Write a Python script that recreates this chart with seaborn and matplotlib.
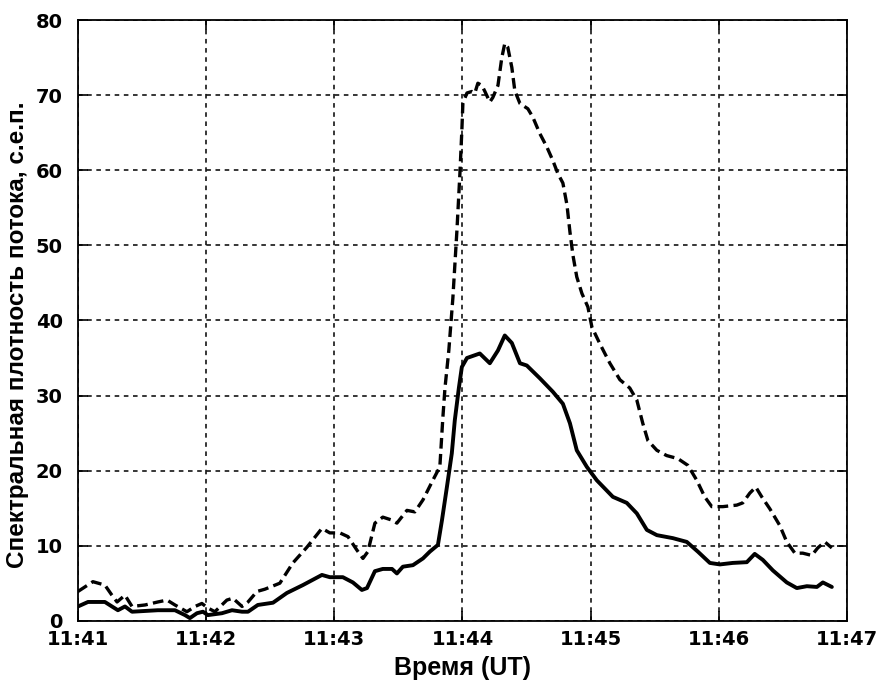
import matplotlib
matplotlib.use("Agg")
import matplotlib.pyplot as plt
import seaborn as sns
import pandas as pd

# time in seconds after 11:41 UT
t_dashed = [0, 7.0, 12.6, 15.9, 18.3, 22.0, 25.3, 31.4, 37.4, 41.7, 45.4, 51.0, 54.8, 58.0, 60.8,
            64.1, 69.7, 72.5, 76.8, 79.6, 83.8, 87.5, 94.5, 100.6, 107.2, 114.2, 117.9, 122.6,
            126.4, 130.6, 133.4, 135.7, 139.0, 142.7, 147.0, 149.3, 154.0, 157.7, 161.5, 166.1,
            169.4, 170.8, 171.8, 173.6, 175.5, 177.4, 178.8, 179.7, 180.2, 182.1, 184.4, 185.8,
            187.2, 189.1, 190.5, 192.8, 194.2, 196.6, 198.4, 199.8, 201.2, 203.1, 204.5, 206.9,
            210.6, 212.9, 216.2, 219.5, 222.3, 224.6, 227.0, 228.9, 230.3, 231.7, 233.5, 235.9,
            238.7, 240.6, 244.3, 249.0, 253.7, 258.3, 261.6, 264.4, 266.8, 271.0, 275.6, 280.8,
            285.5, 289.7, 293.4, 296.7, 301.9, 308.4, 311.2, 314.5, 317.3, 320.1, 323.9, 328.5,
            331.8, 335.6, 339.3, 343.5, 346.3, 349.6, 352.9]
v_dashed = [3.9, 5.2, 4.75, 3.4, 2.5, 3.4, 1.9, 2.1, 2.5, 2.75, 2.1, 1.2, 1.9, 2.3, 1.7,
            1.2, 2.75, 3.0, 1.9, 2.5, 3.9, 4.2, 5.0, 7.7, 9.8, 12.3, 11.7, 11.7,
            11.2, 9.4, 8.3, 9.2, 13.0, 13.8, 13.4, 13.0, 14.7, 14.5, 16.1, 18.7,
            20.5, 27.0, 31.0, 36.0, 43.0, 52.0, 59.6, 65.3, 69.0, 70.3, 70.5, 70.3,
            71.6, 71.3, 70.5, 69.1, 69.7, 71.3, 75.0, 76.9, 76.4, 73.7, 70.6, 68.9,
            68.2, 67.1, 64.9, 63.1, 61.3, 59.6, 58.3, 55.4, 51.8, 48.7, 45.8, 43.6,
            41.8, 39.1, 36.9, 34.3, 32.1, 31.0, 29.4, 26.3, 24.0, 22.7, 22.0, 21.6,
            20.7, 18.7, 16.5, 15.2, 15.2, 15.4, 15.7, 17.0, 17.8, 16.5, 14.9, 12.7,
            10.5, 9.0, 9.0, 8.7, 9.7, 10.5, 9.7]

t_solid = [0, 4.7, 12.6, 15.9, 18.7, 22.0, 25.3, 37.4, 45.4, 50.1, 52.4, 55.7, 58.5, 60.8, 67.4,
           72.1, 76.8, 79.6, 84.2, 91.3, 97.8, 105.3, 114.2, 117.9, 124.0, 128.7, 132.9, 135.3,
           139.0, 142.7, 147.0, 149.3, 152.1, 156.8, 161.5, 164.7, 168.5, 170.4, 172.7, 175.0,
           176.4, 178.3, 179.7, 182.1, 188.1, 192.8, 196.6, 199.8, 203.1, 206.9, 210.1, 216.2,
           222.3, 227.0, 230.3, 233.5, 238.2, 242.9, 250.4, 256.9, 261.6, 266.3, 271.0, 278.5,
           285.0, 290.2, 295.8, 300.5, 306.5, 313.1, 316.8, 320.6, 325.3, 331.8, 336.5, 341.2,
           345.9, 348.7, 352.9]
v_solid = [1.9, 2.5, 2.5, 1.9, 1.4, 1.9, 1.2, 1.4, 1.4, 0.75, 0.35, 1.0, 1.2, 0.75, 1.0,
           1.4, 1.2, 1.2, 2.1, 2.4, 3.7, 4.75, 6.1, 5.8, 5.8, 5.1, 4.1, 4.35,
           6.6, 6.9, 6.9, 6.3, 7.2, 7.4, 8.3, 9.2, 10.1, 13.4, 17.8, 22.3,
           26.7, 31.0, 33.8, 35.0, 35.6, 34.3, 36.0, 38.0, 37.0, 34.3, 34.0, 32.3,
           30.5, 28.9, 26.3, 22.7, 20.5, 18.7, 16.5, 15.7, 14.3, 12.1, 11.4, 11.0,
           10.5, 9.2, 7.7, 7.5, 7.7, 7.8, 8.9, 8.1, 6.7, 5.1, 4.35, 4.6,
           4.5, 5.1, 4.5]

x_ticks = [0, 60, 120, 180, 240, 300, 360]
x_labels = ["11:41", "11:42", "11:43", "11:44", "11:45", "11:46", "11:47"]
y_ticks = [0, 10, 20, 30, 40, 50, 60, 70, 80]

sns.set_theme(style="white")
plt.rcParams['font.family'] = ['Liberation Sans', 'DejaVu Sans']
plt.rcParams['text.color'] = 'black'
plt.rcParams['axes.labelcolor'] = 'black'

df_d = pd.DataFrame({"t": t_dashed, "v": v_dashed})
df_s = pd.DataFrame({"t": t_solid, "v": v_solid})

fig = plt.figure(figsize=(8.77, 6.84), dpi=100)
ax = fig.add_axes([0.0889, 0.0925, 0.8769, 0.878])

sns.lineplot(data=df_d, x="t", y="v", ax=ax, color="black", lw=2.4,
             linestyle=(0, (3.2, 1.6)), estimator=None, sort=False)
sns.lineplot(data=df_s, x="t", y="v", ax=ax, color="black", lw=2.8,
             estimator=None, sort=False)

ax.set_xlim(0, 360)
ax.set_ylim(0, 80)
ax.set_xticks(x_ticks)
ax.set_xticklabels(x_labels)
ax.set_yticks(y_ticks)
ax.grid(True, color="black", linestyle=(0, (3, 3)), linewidth=1.1)
for s in ax.spines.values():
    s.set_color("black")
    s.set_linewidth(1.3)
ax.tick_params(direction="in", length=7, width=1.2, top=True, right=True,
               bottom=True, left=True, colors="black", labelcolor="black")
ax.tick_params(axis="x", pad=7)
ax.tick_params(axis="y", pad=11)
for lab in ax.get_xticklabels() + ax.get_yticklabels():
    lab.set_fontsize(14)
    lab.set_fontweight("bold")
    lab.set_family("DejaVu Sans")

ax.set_xlabel("Время (UT)", fontsize=18, fontweight="bold", color="black")
ax.set_ylabel("Спектральная плотность потока, с.е.п.", fontsize=17.5, fontweight="bold",
              color="black")
ax.xaxis.set_label_coords(0.5, -0.079)
ax.yaxis.set_label_coords(-0.078, 0.476)
ax.xaxis.label.set_va("center")
ax.yaxis.label.set_va("center")

fig.savefig("out.png", dpi=100, facecolor="white")
